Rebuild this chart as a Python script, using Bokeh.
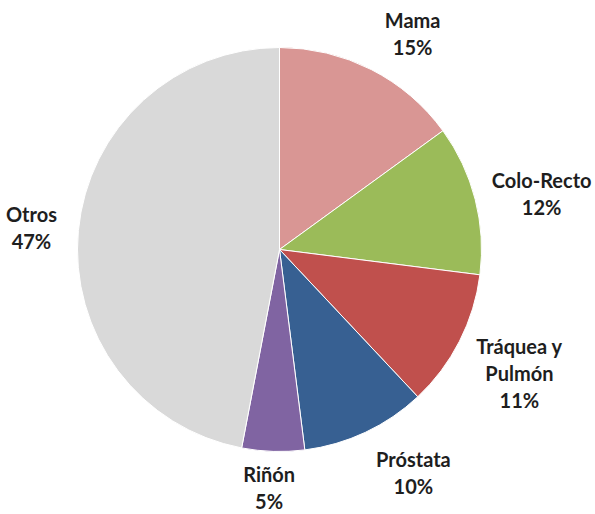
import math
from bokeh.plotting import figure
from bokeh.models import Range1d, ColumnDataSource
from bokeh.core.properties import value
from bokeh.embed import file_html
from bokeh.resources import INLINE

# ---- data ----
categories = ["Mama", "Colo-Recto", "Tráquea y\nPulmón", "Próstata", "Riñón", "Otros"]
percents = [15, 12, 11, 10, 5, 47]
colors = ["#D99694", "#9BBB59", "#C0504D", "#376092", "#8064A2", "#D9D9D9"]

# ---- layout (label placement relative to slice mid-angle) ----
label_radius = [254, 268, 270, 260, 238, 249]
label_angle_nudge = [4.6, 2.4, 0.3, -5.8, 0.7, -0.4]  # degrees
R = 202

total = float(sum(percents))
starts, ends, lx, ly, texts = [], [], [], [], []
cum = 0.0
for i, v in enumerate(percents):
    f0 = cum / total
    f1 = (cum + v) / total
    starts.append(math.pi / 2 - 2 * math.pi * f0)
    ends.append(math.pi / 2 - 2 * math.pi * f1)
    mid_deg = 360 * (f0 + f1) / 2 + label_angle_nudge[i]
    a = math.radians(mid_deg)
    lx.append(label_radius[i] * math.sin(a))
    ly.append(label_radius[i] * math.cos(a))
    texts.append(f"{categories[i]}\n{v}%")
    cum += v

src = ColumnDataSource(dict(start=starts, end=ends, color=colors))
lsrc = ColumnDataSource(dict(x=lx, y=ly, text=texts))

p = figure(width=595, height=514, output_backend="svg", toolbar_location=None,
           x_range=Range1d(-279, 316), y_range=Range1d(-265, 249),
           min_border=0)
p.axis.visible = False
p.grid.visible = False
p.outline_line_color = None
p.background_fill_color = "white"

p.wedge(x=0, y=0, radius=R, start_angle="start", end_angle="end",
        direction="clock", fill_color="color", line_color="white",
        line_width=1, source=src)

p.text(x="x", y="y", text="text", source=lsrc, text_align="center",
       text_baseline="middle", text_font=value("Lato"), text_font_style="bold",
       text_font_size="20px", text_line_height=1.13, text_color="#1e1e1e")

open("out.html", "w").write(file_html(p, INLINE))
